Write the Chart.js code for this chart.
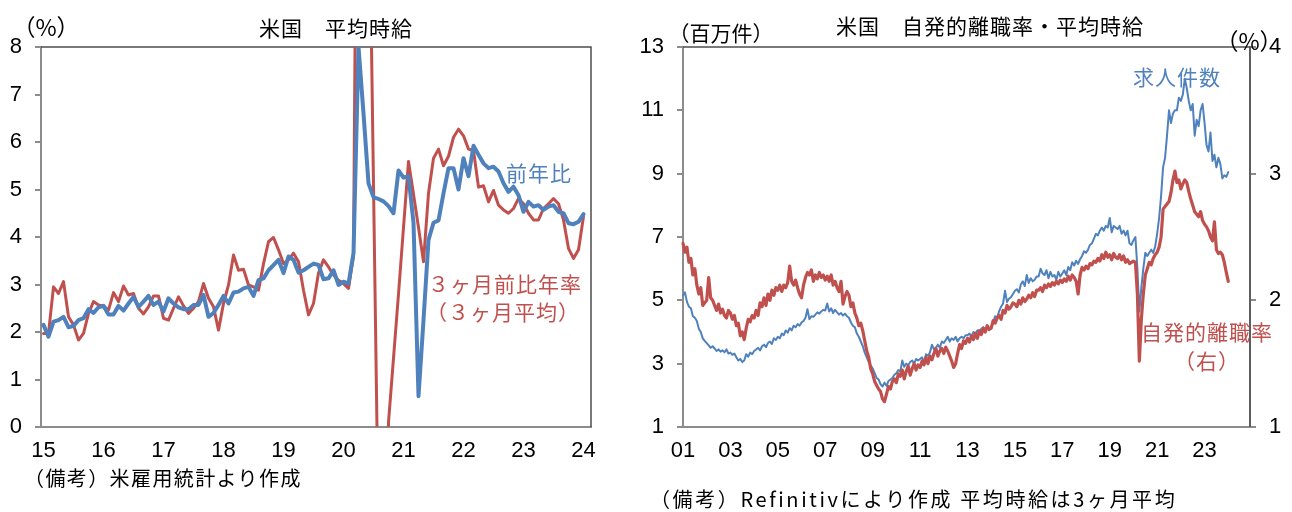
<!DOCTYPE html>
<html lang="ja">
<head>
<meta charset="utf-8">
<title>米国 平均時給 / 自発的離職率</title>
<script src="https://cdn.jsdelivr.net/npm/chart.js"></script>
<style>
    html, body { margin: 0; padding: 0; background: #fff; }
    body {
        width: 1292px; height: 512px; position: relative; overflow: hidden;
        font-family: 'Noto Sans CJK JP', sans-serif; color: #000;
    }
    canvas { position: absolute; top: 0; }
    #wageChart { left: 0; }
    #joltsChart { left: 640px; }
    .txt {
        position: absolute; white-space: nowrap; line-height: 1;
        transform: translate(-50%, -50%);
    }
    .title { font-size: 21px; letter-spacing: 1px; }
    .unit { font-size: 21px; }
    .pct { font-size: 23px; }
    .note { font-size: 20px; transform: translate(0, -50%); }
    .anno { font-size: 21px; letter-spacing: 1px; }
    .blue { color: #4f81bd; }
    .red { color: #c0504d; }
</style>
</head>
<body>
<canvas id="wageChart" width="640" height="512"></canvas>
<canvas id="joltsChart" width="652" height="512"></canvas>

<div class="txt pct" style="left:46px; top:26px;">（%）</div>
<div class="txt title" style="left:336px; top:27px;">米国　平均時給</div>
<div class="txt anno blue" style="left:539px; top:172px;">前年比</div>
<div class="txt anno red" style="left:505px; top:283px;">３ヶ月前比年率</div>
<div class="txt anno red" style="left:503px; top:311px;">（３ヶ月平均）</div>
<div class="txt note" style="left:24px; top:478px; letter-spacing:1.4px;">（備考）米雇用統計より作成</div>

<div class="txt title" style="left:990px; top:25px;">米国　自発的離職率・平均時給</div>
<div class="txt unit" style="left:721px; top:32px;">（百万件）</div>
<div class="txt pct" style="left:1249px; top:40px;">（%）</div>
<div class="txt anno blue" style="left:1177px; top:76px;">求人件数</div>
<div class="txt anno red" style="left:1207px; top:331px;">自発的離職率</div>
<div class="txt anno red" style="left:1207px; top:360px;">（右）</div>
<div class="txt note" style="left:650px; top:499px; letter-spacing:2.6px;">（備考）Refinitivにより作成 平均時給は3ヶ月平均</div>

<script>
// ---- 左：米国 平均時給（2015年1月〜2024年1月、月次、%）
const wageYoY = [
    2.15, 1.9, 2.22, 2.25, 2.32, 2.1, 2.13, 2.25, 2.29, 2.48, 2.4, 2.52,
    2.55, 2.37, 2.37, 2.55, 2.45, 2.6, 2.74, 2.53, 2.64, 2.76, 2.57, 2.64,
    2.43, 2.71, 2.6, 2.52, 2.48, 2.48, 2.57, 2.57, 2.78, 2.32, 2.4, 2.57,
    2.76, 2.6, 2.83, 2.85, 2.92, 2.95, 2.76, 3.09, 3.13, 3.3, 3.41, 3.52,
    3.24, 3.59, 3.52, 3.25, 3.3, 3.37, 3.44, 3.41, 3.11, 3.13, 3.3, 2.99,
    3.06, 3.02, 3.66, 8.0, 6.6, 5.13, 4.84, 4.8, 4.75, 4.65, 4.5, 5.4,
    5.25, 5.28, 4.3, 0.65, 2.25, 3.94, 4.3, 4.35, 4.92, 5.45, 5.45, 5.0,
    5.66, 5.28, 5.92, 5.73, 5.55, 5.45, 5.48, 5.38, 5.13, 4.95, 5.06, 4.88,
    4.53, 4.74, 4.64, 4.67, 4.57, 4.64, 4.67, 4.53, 4.5, 4.29, 4.27, 4.32,
    4.48
];
const wage3m = [
    1.97, 1.97, 2.95, 2.81, 3.06, 2.32, 2.15, 1.83, 1.97, 2.39, 2.64, 2.57,
    2.55, 2.46, 2.83, 2.64, 2.97, 2.78, 2.81, 2.5, 2.38, 2.53, 2.76, 2.76,
    2.29, 2.25, 2.5, 2.74, 2.55, 2.39, 2.5, 2.64, 3.02, 2.71, 2.53, 2.04,
    2.6, 2.99, 3.62, 3.3, 3.32, 2.99, 2.95, 2.88, 3.44, 3.9, 3.99, 3.73,
    3.44, 3.52, 3.66, 3.48, 2.88, 2.36, 2.6, 3.24, 3.52, 3.37, 3.2, 3.09,
    3.02, 2.92, 3.6, 18, 20, 12.4, 5.1, -2.2, -8, 0.1, 1.45, 2.8,
    4.2, 5.59, 4.9, 4.2, 3.48, 4.92, 5.66, 5.85, 5.5, 5.7, 6.1, 6.27,
    6.13, 5.85, 5.82, 5.05, 5.08, 4.74, 4.98, 4.67, 4.57, 4.5, 4.6, 4.81,
    4.7, 4.5, 4.36, 4.36, 4.6, 4.7, 4.81, 4.7, 4.36, 3.76, 3.55, 3.73,
    4.43
];
const wageYearTicks = [0, 12, 24, 36, 48, 60, 72, 84, 96, 108];
const wageYearLabels = ['15', '16', '17', '18', '19', '20', '21', '22', '23', '24'];

// ---- 右：求人件数（百万件）と自発的離職率（%）、2001年1月〜2024年1月
const jobOpenings = [
    5.15, 5.25, 4.95, 4.8, 4.75, 4.5, 4.45, 4.35, 4.1, 4.0, 3.8, 3.72,
    3.65, 3.58, 3.5, 3.55, 3.48, 3.4, 3.45, 3.38, 3.42, 3.36, 3.45, 3.32,
    3.35, 3.28, 3.32, 3.2, 3.1, 3.15, 3.05, 3.1, 3.3, 3.22, 3.35, 3.3,
    3.4, 3.45, 3.5, 3.42, 3.55, 3.6, 3.52, 3.65, 3.7, 3.62, 3.8, 3.75,
    3.85, 3.8, 3.95, 3.9, 4.05, 3.98, 4.12, 4.05, 4.2, 4.15, 4.25, 4.2,
    4.3, 4.35, 4.45, 4.72, 4.4, 4.5, 4.48, 4.55, 4.62, 4.58, 4.65, 4.7,
    4.68, 4.9, 4.65, 4.75, 4.6, 4.7, 4.62, 4.55, 4.6, 4.52, 4.58, 4.5,
    4.45, 4.3, 4.2, 4.15, 3.95, 3.85, 3.7, 3.55, 3.35, 3.2, 3.05, 2.95,
    2.85, 2.7, 2.55, 2.5, 2.35, 2.28, 2.4, 2.3, 2.45, 2.5, 2.55, 2.65,
    2.7, 2.8, 2.75, 3.1, 2.9, 3.0, 2.95, 3.05, 3.1, 3.0, 3.15, 3.1,
    3.15, 3.2, 3.05, 3.3, 3.25, 3.35, 3.6, 3.45, 3.5, 3.6, 3.5, 3.7,
    3.65, 3.75, 3.85, 3.7, 3.8, 3.75, 3.85, 3.7, 3.8, 3.85, 3.8, 3.9,
    3.9, 3.95, 3.85, 4.0, 3.95, 4.05, 4.0, 4.1, 4.15, 4.05, 4.2, 4.1,
    4.15, 4.3, 4.5, 4.45, 4.65, 4.8, 4.9, 5.3, 4.95, 5.05, 5.1, 5.2,
    5.3, 5.35, 5.25, 5.5, 5.6, 5.45, 5.8, 5.55, 5.7, 5.6, 5.65, 5.75,
    5.75, 6.0, 5.85, 5.8, 5.95, 5.7, 5.9, 5.75, 5.8, 5.65, 5.9, 5.75,
    5.85, 5.95, 5.8, 6.05, 5.95, 6.2, 6.1, 6.25, 6.15, 6.3, 6.4, 6.55,
    6.5, 6.6, 6.75, 6.8, 6.95, 7.1, 7.05, 7.2, 7.3, 7.2, 7.35, 7.3,
    7.6, 7.15, 7.35, 7.3, 7.25, 7.35, 7.1, 7.2, 7.05, 7.2, 6.8, 6.75,
    6.9, 7.0, 6.0, 4.65, 5.4, 6.0, 6.5, 6.4, 6.5, 6.6, 6.5, 6.7,
    7.1, 7.6, 8.3, 9.2, 9.5, 10.2, 11.0, 10.6, 10.9, 11.0, 11.0, 11.4,
    11.3, 11.5, 12.0, 11.7, 11.3, 11.0, 11.2, 10.2, 10.7, 10.5, 11.0, 11.2,
    10.6, 9.9, 9.7, 10.3, 9.4, 9.6, 9.2, 9.5, 9.3, 8.85, 8.95, 8.9,
    9.05
];
const quitsRate = [
    2.45, 2.38, 2.42, 2.3, 2.33, 2.2, 2.25, 2.12, 2.05, 2.1, 1.96, 1.98,
    2.0, 2.18, 2.02, 2.0, 1.96, 1.92, 1.97, 1.9, 1.93, 1.88, 1.86, 1.92,
    1.9, 1.85, 1.88, 1.8, 1.82, 1.72, 1.75, 1.69, 1.78, 1.85, 1.83, 1.88,
    1.86, 1.92, 1.88, 1.98, 1.95, 2.02, 1.96, 2.05, 2.0, 2.08, 2.04, 2.1,
    2.08, 2.12, 2.07, 2.12, 2.1, 2.14, 2.27, 2.15, 2.12, 2.16, 2.1, 2.05,
    2.02, 2.12, 2.18, 2.22, 2.2, 2.24, 2.15, 2.2, 2.17, 2.22, 2.18, 2.2,
    2.16, 2.19, 2.15, 2.2, 2.12, 2.15, 2.1, 2.07, 2.15, 1.97, 2.03, 2.07,
    2.04, 1.95, 1.98, 1.9, 1.86, 1.8, 1.82, 1.76, 1.68, 1.6, 1.55, 1.46,
    1.42, 1.36, 1.33, 1.3, 1.28, 1.22, 1.2, 1.26, 1.32, 1.3, 1.36, 1.38,
    1.35, 1.42, 1.4, 1.45, 1.38, 1.44, 1.48, 1.41, 1.46, 1.5, 1.45, 1.49,
    1.47, 1.52, 1.49, 1.55, 1.5, 1.56, 1.53, 1.58, 1.62, 1.56, 1.6, 1.62,
    1.58, 1.63, 1.6, 1.56, 1.52, 1.47, 1.5, 1.58, 1.65, 1.62, 1.68, 1.66,
    1.7, 1.67, 1.72, 1.69, 1.74, 1.7, 1.76, 1.73, 1.78, 1.75, 1.8, 1.77,
    1.78, 1.84, 1.82, 1.86, 1.88, 1.85, 1.92, 1.9, 1.96, 1.93, 1.95, 1.98,
    1.97, 1.95, 2.0, 1.97, 2.02, 1.99, 2.01, 2.04, 2.02, 2.06, 2.03, 2.08,
    2.08, 2.1, 2.07, 2.12, 2.1, 2.13, 2.11, 2.14, 2.12, 2.15, 2.13, 2.16,
    2.14, 2.17, 2.15, 2.19, 2.16, 2.2, 2.18, 2.15, 2.05, 2.2, 2.26, 2.24,
    2.27, 2.25, 2.29, 2.28, 2.31, 2.3, 2.33, 2.31, 2.36, 2.33, 2.38, 2.34,
    2.36, 2.32, 2.37, 2.34, 2.33, 2.36, 2.32, 2.35, 2.3, 2.32, 2.29, 2.3,
    2.31, 2.3, 2.05, 1.52, 1.85, 2.05, 2.2, 2.25, 2.3, 2.28, 2.33, 2.36,
    2.38, 2.42, 2.5, 2.72, 2.74, 2.76, 2.78, 2.85, 2.95, 3.02, 2.93, 2.95,
    2.88, 2.92, 2.95, 2.93, 2.86, 2.8, 2.75, 2.7, 2.68, 2.66, 2.7, 2.63,
    2.6, 2.58, 2.55, 2.5, 2.47, 2.62, 2.4, 2.37, 2.38, 2.36, 2.3, 2.22,
    2.15
];
const joltsYearTicks = [0, 24, 48, 72, 96, 120, 144, 168, 192, 216, 240, 264];
const joltsYearLabels = ['01', '03', '05', '07', '09', '11', '13', '15', '17', '19', '21', '23'];

const BLUE = '#4f81bd';
const RED = '#c0504d';
const AXIS = '#8c8c8c';
const FRAME = '#4d4d4d';
const tickFont = { family: "'Liberation Sans Narrow', 'Liberation Sans', sans-serif", size: 22 };

// 系列を {x: 月番号, y: 値} に
const toPoints = arr => arr.map((v, i) => ({ x: i, y: v }));

// プロット枠（上辺・右辺）
const framePlugin = {
    id: 'frame',
    beforeDatasetsDraw(chart) {
        const { ctx, chartArea: a } = chart;
        ctx.save();
        ctx.strokeStyle = FRAME;
        ctx.lineWidth = 1.5;
        ctx.beginPath();
        ctx.moveTo(a.left, a.top);
        ctx.lineTo(a.right, a.top);
        ctx.lineTo(a.right, a.bottom);
        ctx.stroke();
        ctx.restore();
    }
};

function lineSet(data, color, width, axisId) {
    return {
        data: data,
        borderColor: color,
        borderWidth: width,
        pointRadius: 0,
        tension: 0,
        borderJoinStyle: 'round',
        borderCapStyle: 'round',
        yAxisID: axisId,
        clip: { left: 4, top: 0, right: 4, bottom: 0 }
    };
}

function yearAxis(min, max, ticks, labels) {
    return {
        type: 'linear',
        min: min,
        max: max,
        afterBuildTicks: scale => { scale.ticks = ticks.map(v => ({ value: v })); },
        afterFit: scale => { scale.height = 512 - 427; },
        ticks: {
            autoSkip: false,
            maxRotation: 0,
            padding: 11,
            color: '#000',
            font: tickFont,
            callback: (value, index) => labels[index]
        },
        grid: { drawOnChartArea: false, drawTicks: false },
        border: { color: AXIS, width: 2 }
    };
}

function valueAxis(min, max, step, position, width) {
    return {
        type: 'linear',
        position: position,
        min: min,
        max: max,
        afterFit: scale => { scale.width = width; },
        ticks: {
            stepSize: step,
            padding: 13,
            color: '#000',
            font: tickFont
        },
        grid: { drawOnChartArea: false, drawTicks: true, tickLength: 6, color: AXIS, lineWidth: 2 },
        border: { color: AXIS, width: 2 }
    };
}

Chart.defaults.animation = false;

// 米国 平均時給
new Chart(document.getElementById('wageChart'), {
    type: 'line',
    data: {
        datasets: [
            lineSet(toPoints(wageYoY), BLUE, 4, 'y'),
            lineSet(toPoints(wage3m), RED, 3, 'y')
        ]
    },
    options: {
        responsive: false,
        layout: { padding: { top: 47, right: 49, left: 0, bottom: 0 } },
        plugins: { legend: { display: false }, tooltip: { enabled: false } },
        scales: {
            x: yearAxis(-0.5, 109.5, wageYearTicks, wageYearLabels),
            y: valueAxis(0, 8, 1, 'left', 41)
        }
    },
    plugins: [framePlugin]
});

// 米国 自発的離職率・求人件数
new Chart(document.getElementById('joltsChart'), {
    type: 'line',
    data: {
        datasets: [
            lineSet(toPoints(quitsRate), RED, 3.2, 'y1'),
            lineSet(toPoints(jobOpenings), BLUE, 2, 'y')
        ]
    },
    options: {
        responsive: false,
        layout: { padding: { top: 47, right: 0, left: 0, bottom: 0 } },
        plugins: { legend: { display: false }, tooltip: { enabled: false } },
        scales: {
            x: yearAxis(0, 287, joltsYearTicks, joltsYearLabels),
            y: valueAxis(1, 13, 2, 'left', 43),
            y1: valueAxis(1, 4, 1, 'right', 42)
        }
    },
    plugins: [framePlugin]
});
</script>
</body>
</html>
